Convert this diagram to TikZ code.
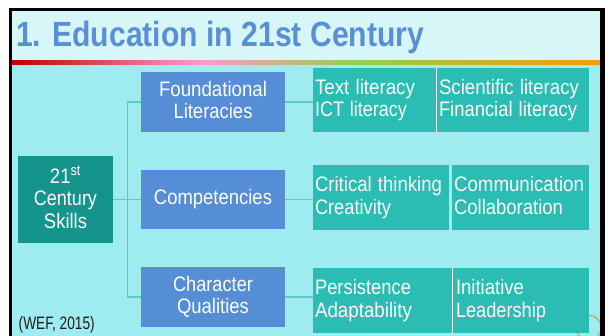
\documentclass[tikz,border=0pt]{standalone}
\usepackage{fontspec}
\setmainfont{Liberation Sans}
\usepackage{graphicx}
\definecolor{titleBg}{HTML}{D7F6F8}
\definecolor{bodyBg}{HTML}{9FECF0}
\definecolor{titleBlue}{HTML}{5A8FD6}
\definecolor{boxBlue}{HTML}{558ED5}
\definecolor{darkTeal}{HTML}{14948B}
\definecolor{teal}{HTML}{2BBCB3}
\definecolor{connTeal}{HTML}{62C9C1}
\definecolor{arcCol}{HTML}{C9A467}
\definecolor{barRed}{HTML}{C00000}
\definecolor{barPink}{HTML}{FF99CC}
\definecolor{barGreen}{HTML}{92D050}
\definecolor{barOrange}{HTML}{F59C00}
\definecolor{wefText}{HTML}{1C1C1C}
\pgfdeclarehorizontalshading{rainbowbar}{100bp}{color(0bp)=(barRed); color(25bp)=(barRed); color(40.8bp)=(barPink); color(54.6bp)=(barGreen); color(75bp)=(barOrange); color(100bp)=(barOrange)}
\newcommand\Wd[2]{\resizebox{#1pt}{\height}{#2}}
\newcommand\Ln[2]{\rule[-4.4pt]{0pt}{19.7pt}\Wd{#1}{#2}}
\tikzset{
  bodyfont/.style={font=\fontsize{21}{22.5}\selectfont},
  bluebox/.style={bodyfont, fill=boxBlue, text=white, minimum width=144pt, inner sep=0pt, align=center},
  skillbox/.style={bodyfont, fill=darkTeal, text=white, minimum width=95pt, minimum height=87pt, inner sep=0pt, align=center},
  tealbox/.style={bodyfont, fill=teal, text=white, inner ysep=0pt, inner xsep=2pt, align=left},
  conn/.style={draw=connTeal, line width=1.2pt},
  sepline/.style={draw=white, line width=1pt},
}
\begin{document}
\begin{tikzpicture}[x=1pt, y=-1pt]
\useasboundingbox (0,0) rectangle (605,336);
\fill[white] (0,0) rectangle (605,336);
% backgrounds
\fill[titleBg] (12,11) rectangle (600,61);
\fill[bodyBg] (12,65) rectangle (600,336);
\shade[shading=rainbowbar] (12,61) rectangle (600,65);
% title
\node[anchor=base west, inner sep=0pt, text=titleBlue, font=\fontsize{35}{35}\selectfont\bfseries] (title) at (16,47) {\Wd{408}{1. Education in 21st Century}};
% decorative ring
\draw[arcCol, line width=1.2pt] (588.6,327.8) circle[radius=12.6pt];
% level boxes
\node[skillbox] (skills) at (65.5,199.5) {\Ln{31}{21\textsuperscript{st}}\\\Ln{63}{Century}\\\Ln{43}{Skills}};
\node[bluebox, minimum height=60pt] (found) at (213,102) {\Ln{108}{Foundational}\\\Ln{79}{Literacies}};
\node[bluebox, minimum height=59pt] (comp) at (213,199.5) {\Ln{118}{Competencies}};
\node[bluebox, minimum height=60pt] (char) at (213,297) {\Ln{80}{Character}\\\Ln{72}{Qualities}};
% detail boxes
\node[tealbox, text width=119pt, minimum height=64pt] (tl) at (374.5,100) {\Ln{100}{Text literacy}\\\Ln{92}{ICT literacy}};
\node[tealbox, text width=148pt, minimum height=64pt] (sl) at (513,100) {\Ln{140}{Scientific literacy}\\\Ln{138}{Financial literacy}};
\node[tealbox, text width=132pt, minimum height=65pt] (ct) at (381,197.5) {\Ln{127}{Critical thinking}\\\Ln{76}{Creativity}};
\node[tealbox, text width=133pt, minimum height=65pt] (cm) at (520.5,197.5) {\Ln{130}{Communication}\\\Ln{109}{Collaboration}};
\node[tealbox, text width=135pt, minimum height=65pt] (pe) at (382.5,300.5) {\Ln{96}{Persistence}\\\Ln{97}{Adaptability}};
\node[tealbox, inner xsep=3pt, text width=130pt, minimum height=65pt] (il) at (521,300.5) {\Ln{68}{Initiative}\\\Ln{90}{Leadership}};
\draw[sepline] (tl.north east) -- (tl.south east);
\draw[sepline] (pe.north east) -- (pe.south east);
% connectors
\coordinate (trunk) at (127.5,199.5);
\draw[conn] (skills.east) -- (comp.west);
\draw[conn] (found.west) -- (found.west -| trunk) -- (char.west -| trunk) -- (char.west);
\draw[conn] (found.east) -- (found.east -| tl.west);
\draw[conn] (comp.east) -- (comp.east -| ct.west);
\draw[conn] (char.east) -- (char.east -| pe.west);
% source
\node[anchor=base west, inner sep=0pt, text=wefText, font=\fontsize{18}{18}\selectfont] (wef) at (18.5,330) {\Wd{76}{(WEF, 2015)}};
% frame
\fill[black] (9,8) rectangle (12,336);
\fill[black] (9,8) rectangle (605,11);
\fill[black] (600,8) rectangle (605,336);
\end{tikzpicture}
\end{document}
